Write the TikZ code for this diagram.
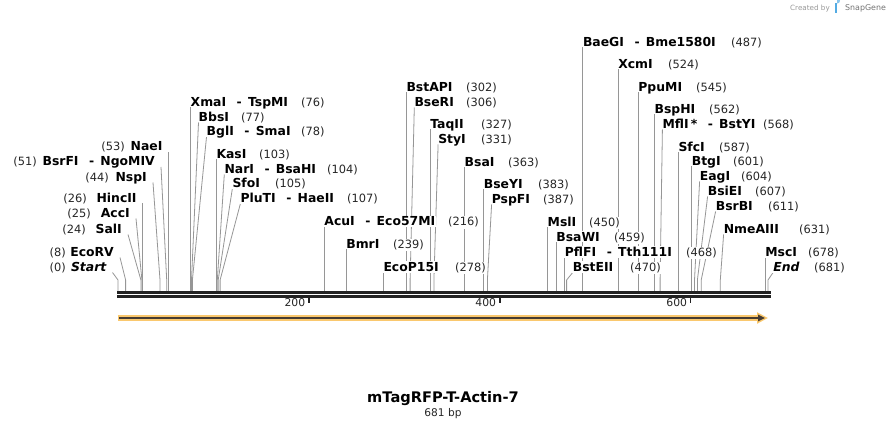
\documentclass[tikz,border=0pt]{standalone}
\usepackage{fontspec}
\setmainfont{DejaVu Sans}
\definecolor{cutgray}{RGB}{150,150,150}
\definecolor{seqdark}{RGB}{34,34,34}
\definecolor{featorange}{RGB}{250,200,110}
\definecolor{featdark}{RGB}{70,60,50}
\definecolor{logoblue}{RGB}{40,150,220}
\pgfdeclarelayer{cutlayer}
\pgfsetlayers{cutlayer,main}
\newcommand\dd{\hspace{0.85em}-\hspace{0.5em}}
% right-hand label: id, site x, label x, baseline y, name, number, number x
\newcommand\renz[7]{%
  \coordinate (s#1) at (#2,291);
  \node[enz,anchor=base west] (n#1) at (#3,#4) {#5};
  \node[num,anchor=base west] (m#1) at (#7,#4) {#6};
  \begin{pgfonlayer}{cutlayer}
  \draw[cut] (s#1) -- ++(0,-11) -- ([xshift=1pt,yshift=-1pt]n#1.base west);
  \end{pgfonlayer}}
% left-hand label: id, site x, line end x, baseline y, name, number, number right x
\newcommand\lenz[7]{%
  \coordinate (s#1) at (#2,291);
  \node[enz,anchor=base east,xshift=2pt] (n#1) at (#3-6,#4) {#5};
  \node[num,anchor=base east,xshift=2pt] (m#1) at (#7,#4) {#6};
  \begin{pgfonlayer}{cutlayer}
  \draw[cut] (s#1) -- ++(0,-11) -- ([xshift=5pt,yshift=-1pt]n#1.base east);
  \end{pgfonlayer}}
\begin{document}
\begin{tikzpicture}[x=1pt,y=-1pt,
  enz/.style={font=\bfseries\fontsize{12.4}{14}\selectfont,inner sep=1pt,text depth=0pt,fill=white,xshift=-1pt},
  num/.style={font=\fontsize{11.4}{13}\selectfont,inner sep=1pt,text=black!85,fill=white,xshift=-1pt},
  cut/.style={draw=cutgray,line width=0.8pt},
  ticklbl/.style={font=\fontsize{10.8}{12}\selectfont,inner sep=0pt,text=black!85}]
\begin{pgfonlayer}{cutlayer}
\fill[white] (0,0) rectangle (888,430);
\end{pgfonlayer}
\useasboundingbox (0,0) rectangle (888,430);

% logo
\node[anchor=base east,font=\fontsize{7.2}{8}\selectfont,text=black!40,inner sep=0pt] (cb) at (830,11) {Created by};
\fill[logoblue!80] (835,13.5) rectangle (837.2,3.5);
\fill[logoblue!55] (837.2,3.5) arc[start angle=90,end angle=-90,radius=2.8] -- cycle;
\node[anchor=base west,font=\fontsize{7.9}{9}\selectfont,text=black!55,inner sep=0pt] (sg) at (845,11) {SnapGene};

% left labels
\lenz{0}{118}{112.5}{271.5}{\itshape Start}{(0)}{66}
\lenz{8}{125.6}{120}{256.5}{EcoRV}{(8)}{66}
\lenz{24}{140.9}{128}{233.5}{SalI}{(24)}{86}
\lenz{25}{141.9}{136}{217.5}{AccI}{(25)}{91}
\lenz{26}{142.8}{142.8}{202.5}{HincII}{(26)}{87}
\lenz{44}{160.0}{153}{181.5}{NspI}{(44)}{109}
\lenz{51}{166.7}{161}{166}{BsrFI\dd NgoMIV}{(51)}{37}
\lenz{53}{168.6}{168.6}{151}{NaeI}{(53)}{125}

% right labels
\renz{76}{190.5}{190.5}{106.5}{XmaI\dd TspMI}{(76)}{301}
\renz{77}{191.5}{198.5}{121.5}{BbsI}{(77)}{241}
\renz{78}{192.4}{206.5}{136}{BglI\dd SmaI}{(78)}{301}
\renz{103}{216.3}{216.3}{158.5}{KasI}{(103)}{259}
\renz{104}{217.3}{224.3}{173.5}{NarI\dd BsaHI}{(104)}{327}
\renz{105}{218.2}{232.3}{188}{SfoI}{(105)}{275}
\renz{107}{220.1}{240.3}{203}{PluTI\dd HaeII}{(107)}{347}
\renz{216}{324.2}{324.2}{226}{AcuI\dd Eco57MI}{(216)}{448}
\renz{239}{346.1}{346.1}{248.5}{BmrI}{(239)}{393}
\renz{278}{383.3}{383.3}{271.5}{EcoP15I}{(278)}{455}
\renz{302}{406.3}{406.3}{91.5}{BstAPI}{(302)}{466}
\renz{306}{410.1}{414.3}{106.5}{BseRI}{(306)}{466}
\renz{327}{430.1}{430.1}{128.5}{TaqII}{(327)}{481}
\renz{331}{433.9}{438.1}{143.5}{StyI}{(331)}{481}
\renz{363}{464.5}{464.5}{166.5}{BsaI}{(363)}{508}
\renz{383}{483.6}{483.6}{188.5}{BseYI}{(383)}{538}
\renz{387}{487.4}{491.6}{203.5}{PspFI}{(387)}{543}
\renz{450}{547.5}{547.5}{226.5}{MslI}{(450)}{589}
\renz{459}{556.1}{556.1}{241.5}{BsaWI}{(459)}{614}
\renz{468}{564.7}{564.7}{256.5}{PflFI\dd Tth111I}{(468)}{686}
\renz{470}{566.6}{572.7}{271.5}{BstEII}{(470)}{630}
\renz{487}{582.8}{582.8}{46.5}{BaeGI\dd Bme1580I}{(487)}{731}
\renz{524}{618.1}{618.1}{68.5}{XcmI}{(524)}{668}
\renz{545}{638.2}{638.2}{91.5}{PpuMI}{(545)}{696}
\renz{562}{654.4}{654.4}{113.5}{BspHI}{(562)}{709}
\renz{568}{660.1}{662.4}{128.5}{MflI\,*\dd BstYI}{(568)}{763}
\renz{587}{678.3}{678.3}{151.5}{SfcI}{(587)}{719}
\renz{601}{691.6}{691.6}{165.5}{BtgI}{(601)}{733}
\renz{604}{694.5}{699.6}{180.5}{EagI}{(604)}{741}
\renz{607}{697.4}{707.6}{195.5}{BsiEI}{(607)}{755}
\renz{611}{701.2}{715.6}{210.5}{BsrBI}{(611)}{768}
\renz{631}{720.3}{723.6}{233.5}{NmeAIII}{(631)}{799}
\renz{678}{765.1}{765.1}{256.5}{MscI}{(678)}{808}
\renz{681}{768.0}{773.1}{271.5}{\itshape End}{(681)}{814}

% sequence line
\coordinate (seqL) at (117.3,0);
\coordinate (seqR) at (770.7,0);
\draw[seqdark,line width=2.7pt] (seqL|-0,292.3) -- (seqR|-0,292.3);
\draw[seqdark,line width=2.4pt] (seqL|-0,296.5) -- (seqR|-0,296.5);

% ruler ticks
\foreach \v/\xx in {200/308.9,400/499.8,600/690.7}{
  \coordinate (t\v) at (\xx,297);
  \draw[seqdark,line width=1.4pt] (t\v) -- ++(0,5.6);
  \node[ticklbl,anchor=base east] (tl\v) at (\xx-3.5,306.5) {\v};
}

% feature arrow
\coordinate (fL) at (117.8,318);
\coordinate (fR) at (759,318);
\draw[featorange,line width=5.4pt] (fL) -- (fR);
\fill[featorange] (757,312.2) -- (767.8,318) -- (757,323.8) -- cycle;
\draw[featdark,line width=1.5pt] ([xshift=1pt]fL) -- (fR);
\fill[featdark] (758,314.6) -- (765,318) -- (758,321.4) -- cycle;

% title
\node[font=\bfseries\fontsize{14.6}{16}\selectfont,inner sep=0pt] (title) at (443,399) {mTagRFP-T-Actin-7};
\node[font=\fontsize{10.6}{12}\selectfont,inner sep=0pt,text=black!85] (len) at (443,413.5) {681 bp};
\end{tikzpicture}
\end{document}
